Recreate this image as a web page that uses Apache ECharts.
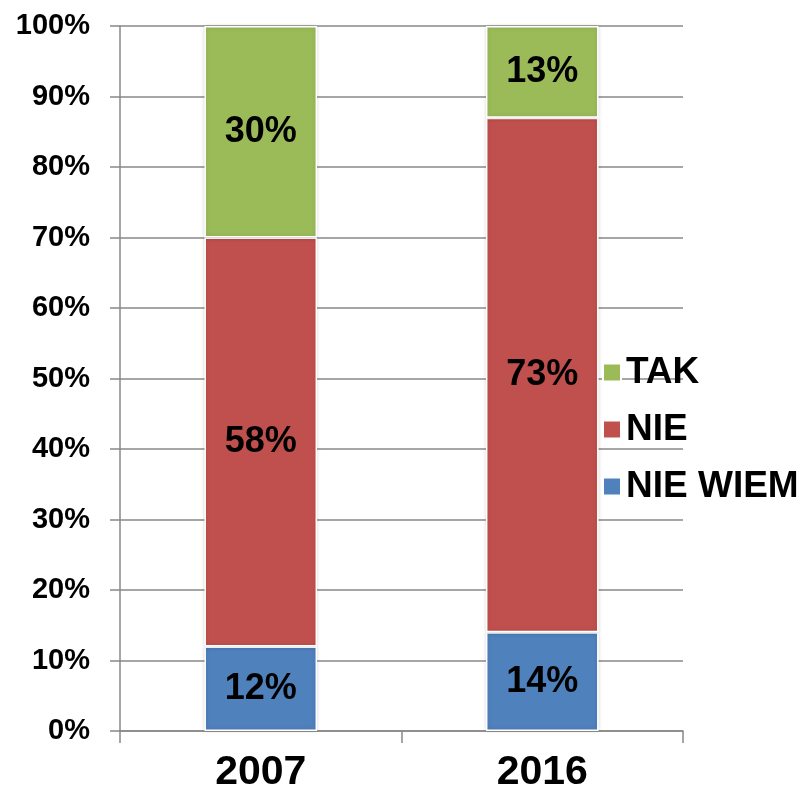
<!DOCTYPE html>
<html>
<head>
<meta charset="utf-8">
<script src="https://cdn.jsdelivr.net/npm/echarts@6/dist/echarts.min.js"></script>
<style>
  html, body { margin: 0; padding: 0; background: #fff; }
  #chart { width: 801px; height: 797px; }
</style>
</head>
<body>
<div id="chart"></div>
<script>
// lata badania
const years = ['2007', '2016']
// odpowiedzi w procentach
const nieWiem = [12, 14]
const nie = [58, 73]
const tak = [30, 13]

const font = 'Liberation Sans, Arial, sans-serif'

const chart = echarts.init(document.getElementById('chart'))

const barLabel = {
  show: true,
  position: 'inside',
  formatter: '{c}%',
  color: '#000',
  fontSize: 36,
  fontWeight: 'bold',
  fontFamily: font
}

const makeSeries = (name, data, color) => ({
  name: name,
  type: 'bar',
  stack: 'total',
  barWidth: '40%',
  data: data,
  label: barLabel,
  itemStyle: {
    color: color,
    borderColor: '#fff',
    borderWidth: 1.5,
    shadowColor: 'rgba(0,0,0,0.15)',
    shadowBlur: 4
  },
  emphasis: { disabled: true }
})

chart.setOption({
  animation: false,
  grid: { left: 120, right: 118, top: 26, bottom: 66 },
  legend: {
    orient: 'vertical',
    left: 597,
    top: 349,
    itemWidth: 18,
    itemHeight: 18,
    itemGap: 20,
    icon: 'rect',
    data: ['TAK', 'NIE', 'NIE WIEM'],
    textStyle: {
      color: '#000',
      fontSize: 37,
      fontWeight: 'bold',
      fontFamily: font
    }
  },
  xAxis: {
    type: 'category',
    data: years,
    axisLine: { lineStyle: { color: '#888', width: 1.5 } },
    axisTick: { show: true, length: 12, lineStyle: { color: '#888', width: 1.5 } },
    axisLabel: {
      color: '#000',
      fontSize: 41,
      fontWeight: 'bold',
      fontFamily: font,
      margin: 21
    }
  },
  yAxis: {
    type: 'value',
    min: 0,
    max: 100,
    interval: 10,
    axisLine: { show: true, lineStyle: { color: '#888', width: 1.5 } },
    axisTick: { show: true, length: 10, lineStyle: { color: '#888', width: 1.5 } },
    splitLine: { lineStyle: { color: '#888', width: 1.5 } },
    axisLabel: {
      formatter: '{value}%',
      color: '#000',
      fontSize: 29,
      fontWeight: 'bold',
      fontFamily: font,
      margin: 30
    }
  },
  series: [
    makeSeries('NIE WIEM', nieWiem, '#4F81BD'),
    makeSeries('NIE', nie, '#C0504D'),
    makeSeries('TAK', tak, '#9BBB59')
  ]
})
</script>
</body>
</html>
